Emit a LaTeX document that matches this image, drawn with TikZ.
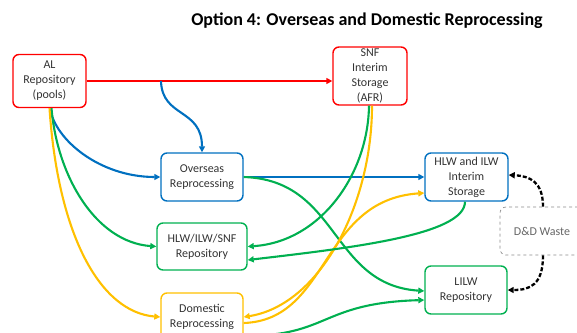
\documentclass[tikz,border=0pt]{standalone}
\usepackage{fontspec}
\setmainfont{Carlito}
\usetikzlibrary{arrows.meta}
\definecolor{cred}{RGB}{255,0,0}
\definecolor{cblue}{RGB}{0,112,192}
\definecolor{cgreen}{RGB}{0,176,80}
\definecolor{cyellow}{RGB}{255,192,0}
\tikzset{
  box/.style={draw, rounded corners=6pt, line width=1.4pt, align=center, inner sep=0pt,
    font=\fontsize{12}{15}\selectfont, text=black!80},
  conn/.style={line width=2.1pt, -{Triangle[length=6pt,width=6pt]}},
  ddconn/.style={line width=2.3pt, black, dash pattern=on 4pt off 2pt, -{Triangle[length=6pt,width=6pt]}},
}
\begin{document}
\begin{tikzpicture}[x=1pt,y=-1pt]
\useasboundingbox (0,0) rectangle (577,332);
\clip (0,0) rectangle (577,332);
\node[font=\fontsize{18}{21}\selectfont\bfseries] (title) at (367,21) {Option 4: Overseas and Domestic Reprocessing};
% boxes
\node[box, draw=cred, minimum width=73pt, minimum height=53pt] (AL) at (49.5,81) {AL\\Repository\\(pools)};
\node[box, draw=cred, minimum width=74pt, minimum height=58pt] (SNF) at (370,76) {SNF\\Interim\\Storage\\(AFR)};
\node[box, draw=cblue, minimum width=82pt, minimum height=48pt] (OVS) at (202,177) {Overseas\\Reprocessing};
\node[box, draw=cgreen, minimum width=90pt, minimum height=47pt] (HIS) at (202,246.5) {HLW/ILW/SNF\\Repository};
\node[box, draw=cyellow, minimum width=82pt, minimum height=48pt] (DOM) at (202,317) {Domestic\\Reprocessing};
\node[box, draw=cblue, minimum width=83pt, minimum height=48pt] (HIL) at (466.5,177) {HLW and ILW\\Interim\\Storage};
\node[box, draw=cgreen, minimum width=82pt, minimum height=48pt] (LILW) at (466,290) {LILW\\Repository};
\node[box, draw=black!45, line width=0.7pt, dashed, minimum width=84pt, minimum height=48pt, text=black!60] (DD) at (542,231) {D\&D Waste};
% coordinates
\coordinate (bsplit) at (161,81);
% red
\draw[conn, cred] (AL.east) -- (AL.east -| SNF.west);
% blue
\draw[conn, cblue] (bsplit) .. controls (162,118) and (202,108) .. (OVS.north);
\draw[conn, cblue] ([xshift=0.5pt]AL.south) .. controls (55,140) and (100,177) .. (OVS.west);
\draw[conn, cblue] (OVS.east) -- (OVS.east -| HIL.west);
% green / yellow
\draw[conn, cgreen] ([xshift=2pt]AL.south) .. controls (57,175) and (95,242) .. (HIS.west);
\draw[conn, cyellow] (AL.south) .. controls (58,235) and (100,312) .. (DOM.west);
\draw[conn, cgreen] (OVS.east) .. controls (340,180) and (330,285) .. ([yshift=-1pt]LILW.west);
\draw[conn, cgreen] ([xshift=-1pt]SNF.south) .. controls (368,175) and (320,242) .. (HIS.east);
\draw[conn, cyellow] ([xshift=2pt]SNF.south) .. controls (372,205) and (320,305) .. (DOM.east);
\draw[conn, cyellow] ([yshift=-6pt]DOM.east) .. controls (330,320) and (320,200) .. ([yshift=-16pt]HIL.west);
\draw[conn, cgreen] ([xshift=-1.5pt]HIL.south) .. controls (465,235) and (350,248) .. ([yshift=-13.5pt]HIS.east);
\draw[conn, cgreen] ([yshift=-19pt]DOM.east) .. controls (330,336) and (320,303) .. ([yshift=-10pt]LILW.west);
% dashed
\draw[ddconn] ([xshift=1pt]DD.north) .. controls (543,182) and (530,176) .. ([yshift=2pt]HIL.east);
\draw[ddconn] ([xshift=1pt]DD.south) .. controls (543,285) and (530,290) .. (LILW.east);
\end{tikzpicture}
\end{document}
